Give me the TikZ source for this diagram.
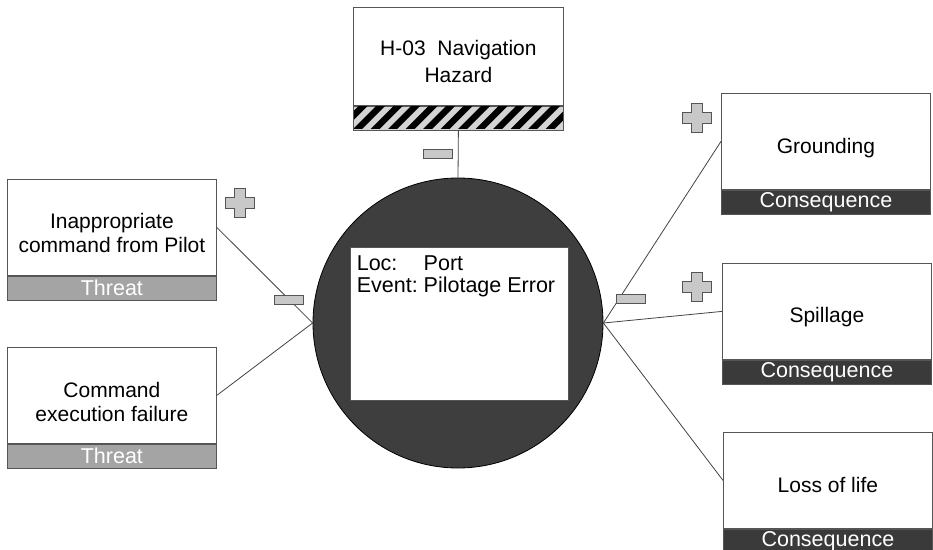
\documentclass[tikz,border=0pt]{standalone}
\usepackage{fontspec}
\setmainfont{Liberation Sans}
\newcommand\dgfont{\fontsize{21bp}{24bp}\selectfont}
\definecolor{edgec}{HTML}{555555}
\definecolor{linec}{HTML}{444444}
\definecolor{threatc}{HTML}{A4A4A4}
\definecolor{consc}{HTML}{3A3A3A}
\definecolor{circc}{HTML}{3E3E3E}
\definecolor{iconc}{HTML}{C8C8C8}
\definecolor{stripec}{HTML}{D4D4D4}
\begin{document}
\begin{tikzpicture}[x=1bp,y=-1bp,
  wbox/.style={draw=edgec, line width=0.8bp, fill=white, minimum width=209bp,
    minimum height=96bp, inner sep=0pt},
  lbl/.style={inner sep=0pt, align=center, font=\dgfont},
  threatbar/.style={draw=edgec, line width=0.8bp, fill=threatc, text=white,
    minimum width=209bp, minimum height=24bp, inner sep=0pt, font=\fontsize{21.5bp}{24bp}\selectfont, anchor=north},
  consbar/.style={draw=edgec, line width=0.8bp, fill=consc, text=white,
    minimum width=209bp, minimum height=24bp, inner sep=0pt, font=\fontsize{21.5bp}{24bp}\selectfont, anchor=north},
  link/.style={draw=linec, line width=0.8bp},
  plusicon/.pic={
    \filldraw[fill=iconc, draw=edgec, line width=0.8bp]
      (-5.5,-14.5) -- (5.5,-14.5) -- (5.5,-5.5) -- (14.5,-5.5) -- (14.5,5.5)
      -- (5.5,5.5) -- (5.5,14.5) -- (-5.5,14.5) -- (-5.5,5.5) -- (-14.5,5.5)
      -- (-14.5,-5.5) -- (-5.5,-5.5) -- cycle;},
  minusicon/.pic={
    \filldraw[fill=iconc, draw=edgec, line width=0.8bp] (-14.5,-4.5) rectangle (14.5,4.5);}
]
\useasboundingbox[fill=white] (0,0) rectangle (933,550);

% hazard
\node[wbox, minimum width=210bp, minimum height=98bp, anchor=north west] (hz) at (353,7) {};
\node[lbl, font=\fontsize{21bp}{27bp}\selectfont] (hzt) at ([yshift=-5bp]hz.center) {H-03\ \ Navigation\\Hazard};
\node[draw=edgec, line width=0.8bp, fill=stripec, minimum width=210bp,
  minimum height=24bp, inner sep=0pt, anchor=north] (hzb) at (hz.south) {};
\begin{scope}
  \clip (hzb.south west) rectangle (hzb.north east);
  \foreach \i in {-2,...,13}
    \fill[black] (353+\i*17.5,129) -- ++(9,0) -- ++(24,-24) -- ++(-9,0) -- cycle;
\end{scope}
\draw[edgec, line width=0.8bp] (hzb.south west) rectangle (hzb.north east);

% central event
\node[circle, draw=black, line width=0.8bp, fill=circc, minimum size=290bp, inner sep=0pt] (ev) at (458,323) {};
\node[draw=edgec, line width=0.8bp, fill=white, minimum width=218bp, minimum height=153bp, inner sep=0pt] (evbox) at (459,323.5) {};
\node[anchor=north west, inner sep=0pt, font=\fontsize{21.5bp}{22bp}\selectfont] (evtext) at ([xshift=7bp,yshift=-8bp]evbox.north west)
  {\begin{tabular}{@{}l@{\ }l@{}}Loc: & Port\\Event: & Pilotage Error\end{tabular}};

% threats
\node[wbox, anchor=north west] (t1) at (7,179) {};
\node[lbl] (t1t) at ([yshift=-6bp]t1.center) {Inappropriate\\command from Pilot};
\node[threatbar] (t1b) at (t1.south) {Threat};
\node[wbox, anchor=north west] (t2) at (7,347) {};
\node[lbl] (t2t) at ([yshift=-7bp]t2.center) {Command\\execution failure};
\node[threatbar] (t2b) at (t2.south) {Threat};

% consequences
\node[wbox, anchor=north west] (c1) at (721,93) {};
\node[lbl] (c1t) at ([yshift=-7bp]c1.center) {Grounding};
\node[consbar] (c1b) at (c1.south) {Consequence};
\node[wbox, anchor=north west] (c2) at (722,263) {};
\node[lbl] (c2t) at ([yshift=-6bp]c2.center) {Spillage};
\node[consbar] (c2b) at (c2.south) {Consequence};
\node[wbox, anchor=north west] (c3) at (723,432) {};
\node[lbl] (c3t) at ([yshift=-5bp]c3.center) {Loss of life};
\node[consbar] (c3b) at (c3.south) {Consequence};

% connectors
\draw[link] (hzb.south) -- (ev.north);
\draw[link] (t1.east) -- (ev.west);
\draw[link] (t2.east) -- (ev.west);
\draw[link] (ev.east) -- (c1.west);
\draw[link] (ev.east) -- (c2.west);
\draw[link] (ev.east) -- (c3.west);

% icons
\pic at (438,154) {minusicon};
\pic at (240,203) {plusicon};
\pic at (289,300) {minusicon};
\pic at (697,118) {plusicon};
\pic at (697,287) {plusicon};
\pic at (631,299) {minusicon};
\end{tikzpicture}
\end{document}
